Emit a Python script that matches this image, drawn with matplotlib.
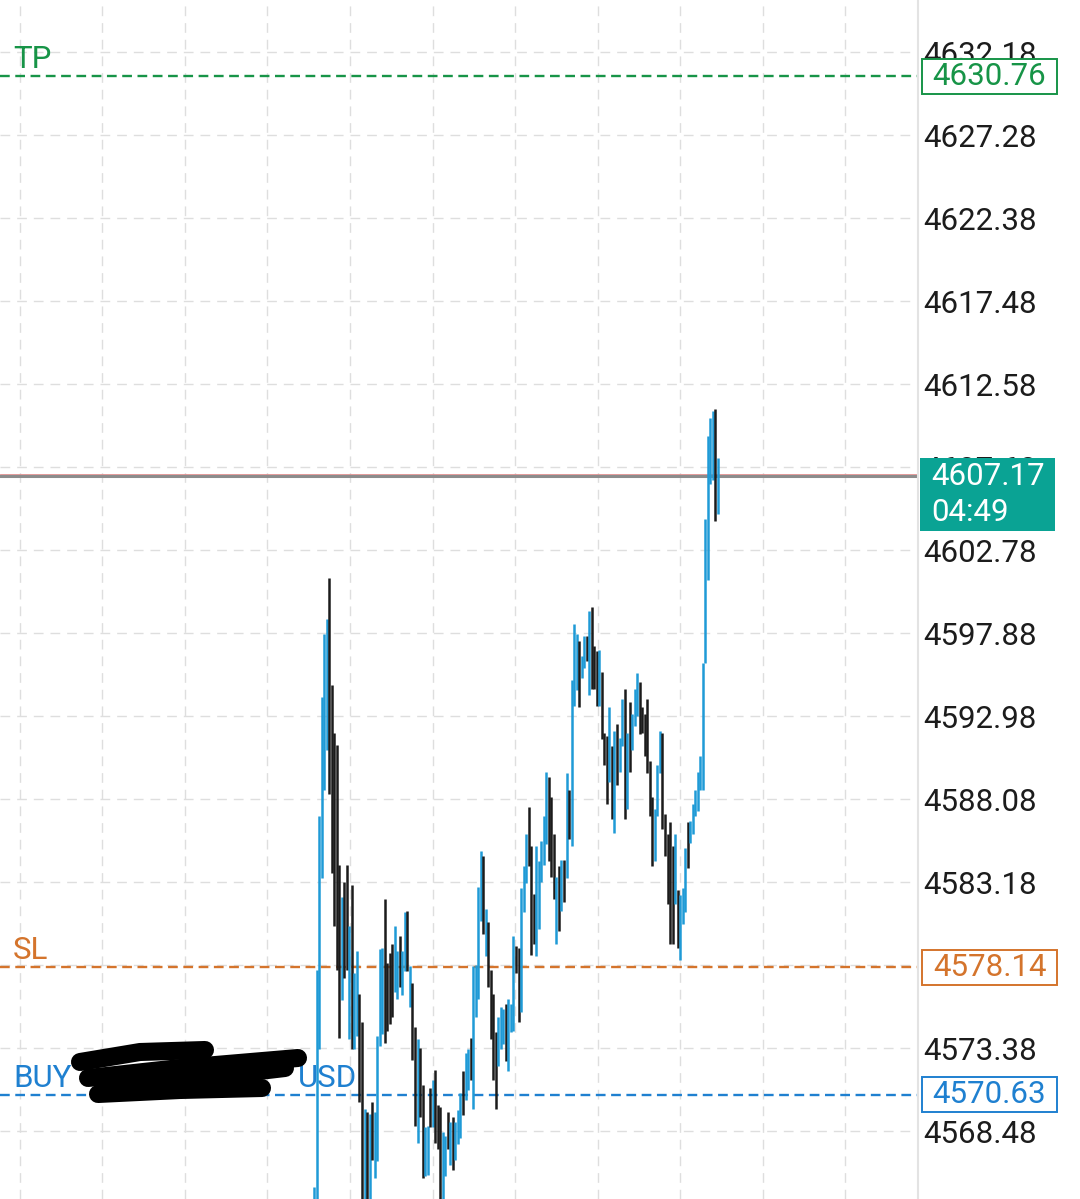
import numpy as np
import matplotlib.pyplot as plt
from matplotlib import transforms
from matplotlib.patches import Rectangle

plt.rcParams['font.family'] = ['Roboto', 'DejaVu Sans']
plt.rcParams['lines.scale_dashes'] = False

# barras (máxima / mínima), u = alta, d = baixa
bar_high = [
    4565.2, 4578.0, 4587.1, 4594.1, 4597.8, 4598.7, 4601.1, 4594.8, 4592.0, 4591.3,
    4584.2, 4582.3, 4583.2, 4584.2, 4580.6, 4583.0, 4577.8, 4579.1, 4576.6, 4574.9,
    4569.8, 4569.6, 4569.5, 4570.2, 4569.6, 4574.1, 4579.2, 4579.3, 4582.2, 4578.4,
    4579.0, 4579.5, 4580.6, 4579.1, 4580.0, 4579.1, 4581.4, 4581.5, 4578.2, 4577.2,
    4574.6, 4573.9, 4573.4, 4571.2, 4568.7, 4568.8, 4571.0, 4571.5, 4572.1, 4570.0,
    4569.9, 4568.4, 4568.2, 4569.6, 4569.0, 4569.3, 4569.0, 4569.7, 4570.7, 4572.0,
    4573.1, 4573.3, 4574.0, 4578.2, 4578.3, 4582.9, 4585.0, 4584.7, 4581.6, 4580.8,
    4578.0, 4576.6, 4574.3, 4575.2, 4575.8, 4575.7, 4576.0, 4576.3, 4576.0, 4580.0,
    4579.4, 4579.3, 4582.8, 4584.1, 4586.0, 4587.6, 4585.3, 4582.5, 4585.3, 4584.4,
    4585.6, 4587.1, 4589.7, 4589.4, 4588.2, 4586.0, 4583.5, 4584.1, 4584.5, 4584.5,
    4589.6, 4588.6, 4595.1, 4598.4, 4597.8, 4597.4, 4596.5, 4597.7, 4597.7, 4599.2,
    4599.4, 4597.1, 4596.8, 4596.9, 4595.6, 4592.0, 4591.8, 4593.5, 4591.2, 4592.1,
    4592.5, 4591.7, 4594.0, 4594.6, 4592.0, 4593.8, 4593.1, 4594.6, 4595.5, 4595.0,
    4593.5, 4593.1, 4594.0, 4590.3, 4588.2, 4587.5, 4590.1, 4592.1, 4592.0, 4587.2,
    4586.0, 4586.7, 4585.3, 4586.0, 4582.7, 4582.4, 4582.8, 4585.2, 4586.7, 4586.8,
    4587.8, 4588.6, 4589.7, 4590.6, 4596.1, 4604.6, 4609.5, 4610.6, 4611.0, 4611.1,
    4608.2,
]
bar_low = [
    4563.0, 4563.0, 4573.3, 4583.4, 4588.6, 4591.0, 4588.4, 4583.7, 4580.6, 4578.0,
    4574.0, 4576.2, 4577.5, 4578.0, 4573.9, 4573.3, 4573.3, 4574.1, 4570.2, 4563.0,
    4563.0, 4563.0, 4563.0, 4566.8, 4565.7, 4566.7, 4573.5, 4574.2, 4573.7, 4574.4,
    4574.8, 4575.2, 4576.7, 4576.3, 4577.0, 4576.5, 4577.9, 4577.9, 4575.8, 4572.7,
    4568.8, 4567.8, 4569.3, 4565.7, 4565.8, 4565.9, 4568.7, 4568.7, 4567.8, 4567.4,
    4563.0, 4563.0, 4565.8, 4567.4, 4566.5, 4566.2, 4566.8, 4567.7, 4568.1, 4569.4,
    4570.3, 4570.9, 4571.5, 4569.8, 4575.2, 4576.3, 4580.9, 4580.1, 4578.8, 4577.0,
    4573.9, 4571.5, 4569.8, 4572.3, 4573.3, 4573.6, 4572.6, 4572.0, 4574.3, 4574.4,
    4577.8, 4574.9, 4575.5, 4581.4, 4583.1, 4584.1, 4578.9, 4579.5, 4578.8, 4580.4,
    4583.2, 4584.2, 4585.4, 4584.4, 4583.5, 4582.2, 4579.5, 4580.3, 4581.5, 4582.0,
    4583.4, 4585.7, 4585.3, 4593.6, 4594.5, 4593.5, 4595.2, 4595.8, 4596.2, 4594.2,
    4594.6, 4594.6, 4593.6, 4593.6, 4591.6, 4590.1, 4587.8, 4589.1, 4586.9, 4586.1,
    4588.9, 4589.7, 4591.2, 4586.9, 4587.5, 4589.7, 4591.0, 4592.4, 4593.0, 4591.9,
    4592.0, 4590.6, 4589.6, 4587.1, 4584.1, 4584.4, 4587.1, 4589.6, 4586.3, 4584.7,
    4581.9, 4579.5, 4579.5, 4581.9, 4579.3, 4578.6, 4580.7, 4581.4, 4584.0, 4585.5,
    4586.0, 4587.1, 4587.4, 4588.6, 4588.6, 4596.1, 4601.0, 4606.7, 4606.9, 4604.5,
    4604.9,
]
bar_dir = ("uuuuuudddd" "dudduduudd" "ududuuuudd" "dduuduudud" "dudduududd"
           "duududuuud" "uuduuuudud" "ddduuuduuu" "dduuuddduu" "uuudddudud"
           "uduuuduudu" "dddudddudu" "duududuuud" "ddddduuudd" "ddduduuudu"
           "uuuuuuuuudu")

price_ticks = [4568.48, 4573.38, 4578.28, 4583.18, 4588.08, 4592.98, 4597.88,
               4602.78, 4607.68, 4612.58, 4617.48, 4622.38, 4627.28, 4632.18]

tp_price = 4630.76
sl_price = 4578.14
buy_price = 4570.63
last_price = 4607.17
countdown = "04:49"

cor_alta = '#1f9ad6'
cor_baixa = '#1b1b1b'
cor_tp = '#179447'
cor_sl = '#d4742c'
cor_buy = '#1f80d0'
cor_atual = '#0aa394'

W, H = 1080, 1199
fig = plt.figure(figsize=(W / 100, H / 100), dpi=100)
ax = fig.add_axes([0, 0, 918 / W, 1])

ymin, ymax = 4564.47, 4635.25
px = (ymax - ymin) / H  # preço por pixel
passo = 2.525           # pixels por barra
x0 = 314

x = np.arange(len(bar_high))
cores = [cor_alta if d == 'u' else cor_baixa for d in bar_dir]
ax.vlines(x, bar_low, bar_high, colors=cores, linewidth=1.8, zorder=3)

ax.set_xlim(-x0 / passo, (918 - x0) / passo)
ax.set_ylim(ymin, ymax)

# grade
grade_x = [(19.5 + 82.6 * k - x0) / passo for k in range(11)]
ax.set_xticks(grade_x)
ax.set_yticks(price_ticks)
ax.set_yticklabels([f'{p:.2f}' for p in price_ticks])
ax.grid(True, color='#dedede', linestyle=(0, (7, 5)), linewidth=1.0, zorder=0)
ax.tick_params(axis='x', length=0, labelbottom=False)
ax.tick_params(axis='y', length=0, left=False, labelleft=False, right=False,
               labelright=True, labelsize=22.5, labelcolor='#1c1c1c', pad=4)
for lado in ['left', 'top', 'bottom']:
    ax.spines[lado].set_visible(False)
ax.spines['right'].set_color('#e3e3e3')
ax.spines['right'].set_linewidth(1.5)

# linhas de ordem
traco = (0, (7, 4))
ax.axhline(tp_price, color=cor_tp, linewidth=1.7, linestyle=traco, zorder=2)
ax.axhline(sl_price, color=cor_sl, linewidth=1.7, linestyle=traco, zorder=2)
ax.axhline(buy_price, color=cor_buy, linewidth=1.7, linestyle=traco, zorder=2)
ax.axhline(last_price + 2 * px, color='#e08a8a', linewidth=0.6, zorder=2)
ax.axhline(last_price, color='#8c8c8c', linewidth=2.2, zorder=2)

mix = transforms.blended_transform_factory(ax.transAxes, ax.transData)
acima = transforms.offset_copy(mix, fig=fig, y=8, units='dots')

ax.text(13 / 918, tp_price, 'TP', color=cor_tp, fontsize=22.5, va='baseline',
        transform=acima)
ax.text(13 / 918, sl_price, 'SL', color=cor_sl, fontsize=22.5, va='baseline',
        transform=acima)
ax.text(13 / 918, buy_price, 'BUY', color=cor_buy, fontsize=22.5, va='baseline',
        transform=acima)
ax.text(357 / 918, buy_price, 'USD', color=cor_buy, fontsize=22.5, va='baseline',
        ha='right', transform=acima)

# rabisco preto por cima do texto da ordem
rabisco = [[(80, 1062), (140, 1052), (205, 1050)],
           [(88, 1078), (180, 1068), (298, 1058)],
           [(98, 1094), (180, 1090), (262, 1088)],
           [(105, 1085), (200, 1078), (285, 1068)]]
for tr in rabisco:
    xs = [p[0] / 918 for p in tr]
    ys = [1 - p[1] / H for p in tr]
    ax.plot(xs, ys, color='black', linewidth=13, solid_capstyle='round',
            solid_joinstyle='round', transform=ax.transAxes, zorder=5)


# caixas de preço no eixo
def caixa(preco, texto, cor):
    bx, bw, meia = 922 / 918, 135 / 918, 17.5 * px
    ax.add_patch(Rectangle((bx, preco - meia), bw, 2 * meia, transform=mix,
                           facecolor='white', edgecolor=cor, linewidth=1.4,
                           clip_on=False, zorder=6))
    ax.text(bx + bw / 2, preco, texto, color=cor, fontsize=22.5, ha='center',
            va='center', transform=mix, clip_on=False, zorder=7)


caixa(tp_price, f'{tp_price:.2f}', cor_tp)
caixa(sl_price, f'{sl_price:.2f}', cor_sl)
caixa(buy_price, f'{buy_price:.2f}', cor_buy)

topo = last_price + 18 * px
ax.add_patch(Rectangle((920 / 918, topo - 73 * px), 135 / 918, 73 * px,
                       transform=mix, facecolor=cor_atual, edgecolor='none',
                       clip_on=False, zorder=6))
ax.text(931 / 918, topo - 19 * px, f'{last_price:.2f}', color='white',
        fontsize=22.5, va='center', transform=mix, clip_on=False, zorder=7)
ax.text(931 / 918, topo - 55 * px, countdown, color='white',
        fontsize=22.5, va='center', transform=mix, clip_on=False, zorder=7)

fig.savefig('out.png', dpi=100, facecolor='white')
